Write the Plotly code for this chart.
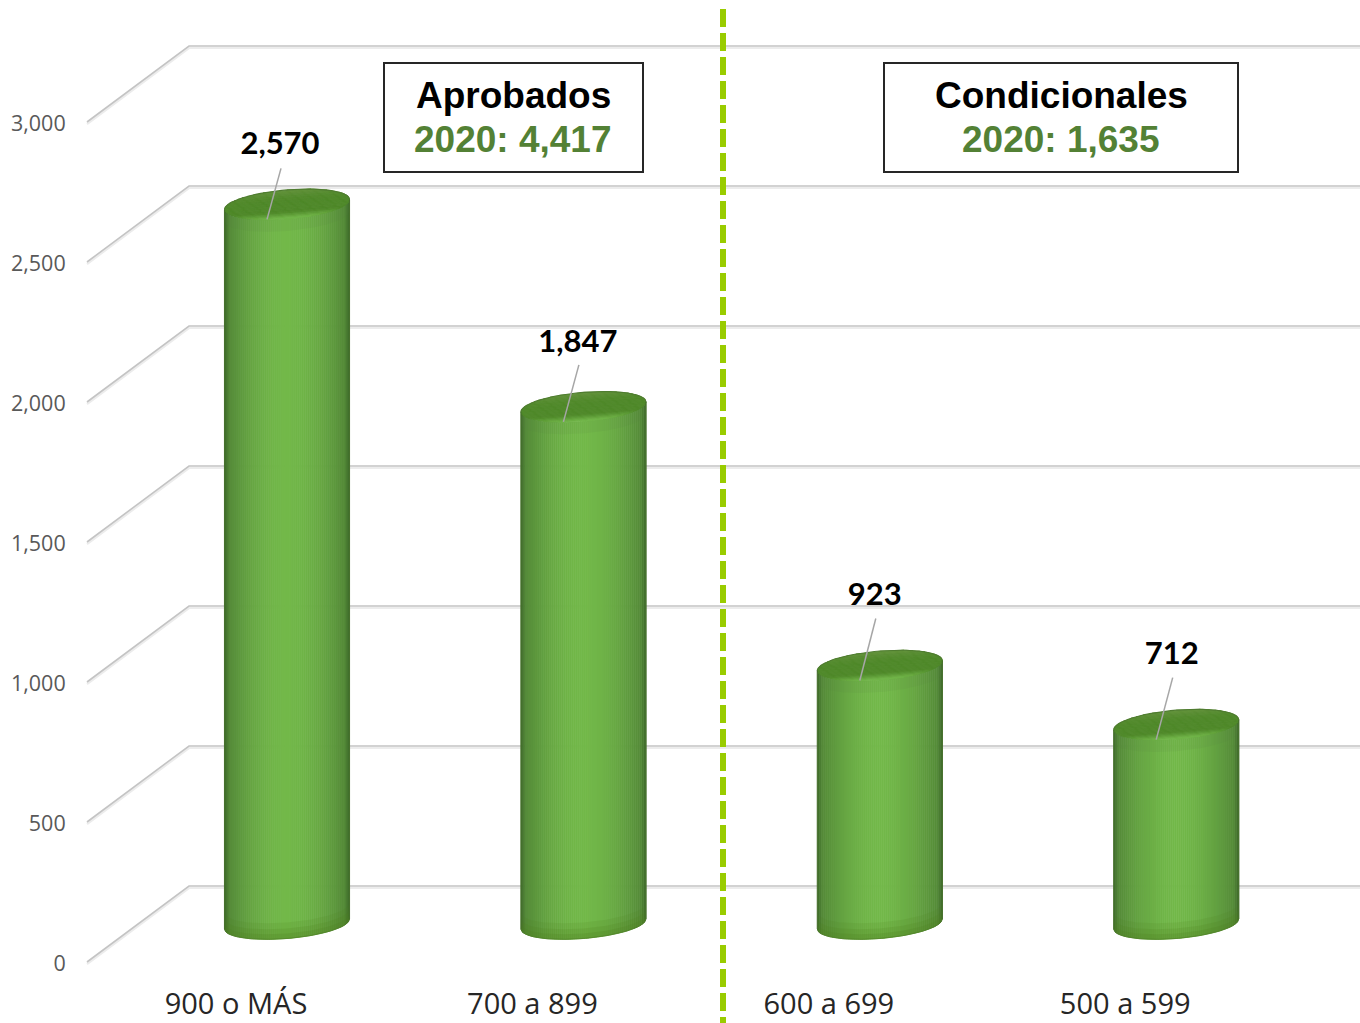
import numpy as np
import plotly.graph_objects as go

categories = ["900 o MÁS", "700 a 899", "600 a 699", "500 a 599"]
values = [2570, 1847, 923, 712]
value_labels = ["2,570", "1,847", "923", "712"]
y_ticks = [0, 500, 1000, 1500, 2000, 2500, 3000]
box_titles = ["Aprobados", "Condicionales"]
box_subtitles = ["2020: 4,417", "2020: 1,635"]

# scale: pixels per category and per unit of value
PX_CAT, PX_VAL = 296.4, 0.28
X0_PX, Y0_PX = 236.0, 962.0
W, H, ML, MB = 1360, 1023, 74, 46
DX, DV = 102 / PX_CAT, 76 / PX_VAL      # depth of the 3-D floor
WALL_X = (87 - X0_PX) / PX_CAT
A = 62.5 / PX_CAT                        # cylinder half width
B, K = 14.5 / PX_VAL, 5 / PX_VAL         # ellipse half height and tilt
LABEL_DY = [58, 63, 68, 68]              # px above the cylinder top
LABEL_DX = [-7, -5.5, -5, -4.5]          # px beside the cylinder centre
LEAD_TOP = [36, 42, 47, 47]              # px above the cylinder top

x_range = [(ML - X0_PX) / PX_CAT, (W - X0_PX) / PX_CAT]
y_range = [(Y0_PX - (H - MB)) / PX_VAL, Y0_PX / PX_VAL]

fig = go.Figure()


def line(xs, ys, color, width=1.0):
    fig.add_trace(go.Scatter(x=xs, y=ys, mode="lines", line=dict(color=color, width=width),
                             hoverinfo="skip", showlegend=False))


def poly(xs, ys, color, lc=None, lw=1.0):
    fig.add_trace(go.Scatter(x=xs, y=ys, mode="lines", fill="toself", fillcolor=color,
                             line=dict(color=lc or color, width=lw), hoverinfo="skip", showlegend=False))


# wall gridlines
for v in y_ticks:
    off = 2 / PX_VAL
    line([WALL_X, WALL_X + DX, x_range[1]], [v - off, v + DV - off, v + DV - off], "#ececec", 2.2)
    line([WALL_X, WALL_X + DX, x_range[1]], [v, v + DV, v + DV], "#c4c4c4", 1.6)


def mix(c1, c2, f):
    return tuple(c1[i] + (c2[i] - c1[i]) * f for i in range(3))


def rgb(c):
    return "rgb(" + ",".join(str(int(round(x))) for x in c) + ")"


EDGE, MID, EDGE2 = (62, 106, 42), (114, 184, 73), (84, 138, 56)
RIM, DARK = (100, 146, 60), (78, 136, 40)


def shade(u):
    d = abs(u)
    if d > 0.92:
        return mix(EDGE2, EDGE, (d - 0.92) / 0.08)
    return mix(MID, EDGE2, (d / 0.92) ** 1.8)


def top_shade(w):
    # w = +1 at the back of the ellipse, -1 at its front
    if w > 0.2:
        return mix(DARK, RIM, ((w - 0.2) / 0.8) ** 1.5)
    if w > -0.55:
        return DARK
    return mix(MID, DARK, (w + 1) / 0.45)


def arc(cx, cv, u):
    """front arc of the tilted ellipse, in data units"""
    u = np.asarray(u, dtype=float)
    return cx + A * u, cv - B * np.sqrt(np.clip(1 - u ** 2, 0, 1)) + K * u


N = 62
edges = np.linspace(-1, 1, N + 1)
u = np.linspace(-1, 1, 61)
for i, v in enumerate(values):
    cx = i + DX / 2
    base, top = DV / 2, v + DV / 2
    for j in range(N):
        us = np.linspace(edges[j], edges[j + 1], 3)
        xt, yt = arc(cx, top, us)
        xb, yb = arc(cx, base, us)
        poly(list(xt) + list(xb[::-1]), list(yt) + list(yb[::-1]), rgb(shade(us[1])))
    # soft darker bands at the foot
    for h, a in [(16, 0.14), (10, 0.18), (5, 0.22)]:
        xb, yb = arc(cx, base, u)
        xb2, yb2 = arc(cx, base + h / PX_VAL, u)
        poly(list(xb) + list(xb2[::-1]), list(yb) + list(yb2[::-1]), f"rgba(76,128,30,{a})", "rgba(0,0,0,0)", 0)
    # faint band below the top rim
    xb3, yb3 = arc(cx, top - 12 / PX_VAL, u)
    xb4, yb4 = arc(cx, top, u)
    poly(list(xb4) + list(xb3[::-1]), list(yb4) + list(yb3[::-1]), "rgba(90,125,70,0.10)", "rgba(0,0,0,0)", 0)
    # top ellipse as tilted slices, from back to front
    ws = np.linspace(1, -1, 27)
    for w1, w2 in zip(ws[:-1], ws[1:]):
        c1, c2 = np.sqrt(max(1 - w1 ** 2, 0)), np.sqrt(max(1 - w2 ** 2, 0))
        xs = [cx - A * c1, cx + A * c1, cx + A * c2, cx - A * c2]
        ys = [top + B * w1 - K * c1, top + B * w1 + K * c1, top + B * w2 + K * c2, top + B * w2 - K * c2]
        poly(xs, ys, rgb(top_shade((w1 + w2) / 2)), None, 0.8)
    # back outline of the ellipse
    t = np.linspace(0, np.pi, 37)
    line(list(cx + A * np.cos(t)), list(top + B * np.sin(t) + K * np.cos(t)), "#4f7c30", 1.1)
    # sides
    line([cx - A, cx - A], [base - K, top - K], "#46702c", 1.1)
    line([cx + A, cx + A], [base + K, top + K], "#46702c", 1.1)
    # foot outline
    xo, yo = arc(cx, base, u)
    line(list(xo), list(yo), "rgba(80,125,40,0.7)", 1)
    # leader line
    line([cx + (LABEL_DX[i] + 1) / PX_CAT, cx - 20 / PX_CAT], [top + LEAD_TOP[i] / PX_VAL, top - 15 / PX_VAL], "#a6a6a6", 1.5)

# data labels
fig.add_trace(go.Scatter(
    x=[i + DX / 2 + d / PX_CAT for i, d in enumerate(LABEL_DX)],
    y=[v + DV / 2 + d / PX_VAL for v, d in zip(values, LABEL_DY)],
    text=value_labels, mode="text", textposition="middle center",
    textfont=dict(family="Lato", size=31, color="#000000", weight="bold"),
    hoverinfo="skip", showlegend=False))


def px(x):
    return (x - ML) / (W - ML)


def py(y):
    return 1 - y / (H - MB)


shapes = [
    dict(type="rect", xref="paper", yref="paper", x0=px(384), x1=px(643), y0=py(172), y1=py(63),
         line=dict(color="#262626", width=2), fillcolor="white", layer="below"),
    dict(type="rect", xref="paper", yref="paper", x0=px(884), x1=px(1238), y0=py(172), y1=py(63),
         line=dict(color="#262626", width=2), fillcolor="white", layer="below"),
    dict(type="line", xref="paper", yref="paper", x0=px(723), x1=px(723), y0=py(9), y1=py(1023),
         line=dict(color="#99cc00", width=6, dash="18px,6px")),
]
annotations = []
for cx_px, title, sub in zip([513, 1061], box_titles, box_subtitles):
    annotations.append(dict(x=px(cx_px), y=py(95), xref="paper", yref="paper", xanchor="center", yanchor="middle",
                            text=f"<b>{title}</b>", showarrow=False,
                            font=dict(family="Liberation Sans", size=37, color="#000000")))
    annotations.append(dict(x=px(cx_px), y=py(140), xref="paper", yref="paper", xanchor="center", yanchor="middle",
                            text=f"<b>{sub}</b>", showarrow=False,
                            font=dict(family="Liberation Sans", size=37, color="#538135")))

fig.update_layout(
    width=W, height=H, margin=dict(l=ML, r=0, t=0, b=MB, autoexpand=False),
    paper_bgcolor="white", plot_bgcolor="rgba(0,0,0,0)", showlegend=False,
    shapes=shapes, annotations=annotations,
    xaxis=dict(range=x_range, tickvals=list(range(len(categories))), ticktext=categories,
               showgrid=False, zeroline=False, showline=False, ticks="outside", ticklen=1, tickcolor="rgba(0,0,0,0)",
               tickfont=dict(family="Open Sans", size=29, color="#262626"), fixedrange=True),
    yaxis=dict(range=y_range, tickvals=[v - 1 / PX_VAL for v in y_ticks], ticktext=[f"{v:,}" for v in y_ticks],
               showgrid=False, zeroline=False, showline=False,
               ticks="outside", ticklen=3, tickcolor="rgba(0,0,0,0)",
               tickfont=dict(family="Open Sans", size=21.5, color="#595959"), fixedrange=True),
)

fig.write_html("out.html", config=dict(displayModeBar=False),
               post_script="document.body.style.margin='0';document.body.style.overflow='hidden';")
